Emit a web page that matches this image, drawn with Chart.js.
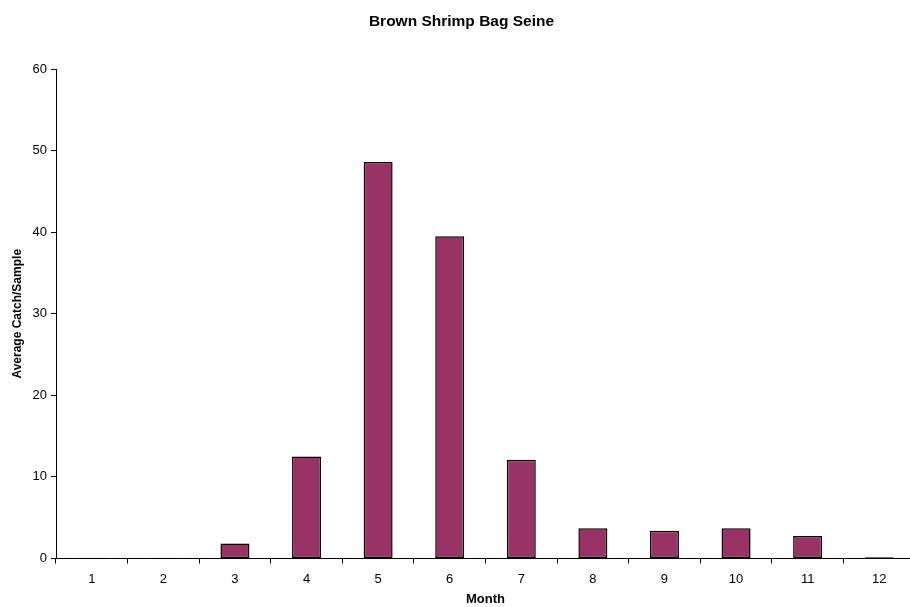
<!DOCTYPE html>
<html>
<head>
<meta charset="utf-8">
<script src="https://cdn.jsdelivr.net/npm/chart.js@4.4.1/dist/chart.umd.min.js"></script>
<style>
  html, body { margin: 0; padding: 0; background: #ffffff; overflow: hidden; }
  #wrap { width: 926px; height: 607px; }
</style>
</head>
<body>
<div id="wrap"><canvas id="chart" width="926" height="607"></canvas></div>
<script>
// Brown shrimp bag seine: average catch per sample by month
const months = ['1', '2', '3', '4', '5', '6', '7', '8', '9', '10', '11', '12'];
const avgCatch = [0.1, 0.1, 1.85, 12.5, 48.6, 39.5, 12.1, 3.7, 3.4, 3.7, 2.75, 0.15];
const yTicks = [0, 10, 20, 30, 40, 50, 60];

const FONT = "'Liberation Sans', Arial, sans-serif";

new Chart(document.getElementById('chart'), {
  type: 'bar',
  data: {
    labels: months,
    datasets: [{
      label: 'Average Catch/Sample',
      data: avgCatch,
      backgroundColor: '#993366',
      borderColor: '#000000',
      borderWidth: 1.5,
      borderSkipped: false,
      barPercentage: 0.405,
      categoryPercentage: 1.0
    }]
  },
  options: {
    responsive: false,
    animation: false,
    layout: { padding: { left: 8, right: 11, top: 0, bottom: 0 } },
    plugins: {
      legend: { display: false },
      tooltip: { enabled: false },
      title: {
        display: true,
        text: 'Brown Shrimp Bag Seine',
        color: '#000000',
        font: { family: FONT, size: 15.5, weight: 'bold', lineHeight: 1.2 },
        padding: { top: 12.5, bottom: 37.9 }
      }
    },
    scales: {
      x: {
        type: 'category',
        offset: true,
        grid: {
          display: true,
          offset: true,
          drawOnChartArea: false,
          drawTicks: true,
          tickLength: 5,
          color: '#000000',
          lineWidth: 1
        },
        border: { display: true, color: '#000000', width: 1 },
        ticks: {
          color: '#000000',
          font: { family: FONT, size: 13 },
          padding: 8,
          maxRotation: 0
        },
        title: {
          display: true,
          text: 'Month',
          color: '#000000',
          font: { family: FONT, size: 13, weight: 'bold' },
          padding: { top: 7, bottom: 0 }
        },
        afterFit: (scale) => { scale.height = 48.5; }
      },
      y: {
        min: 0,
        max: 60,
        afterBuildTicks: (scale) => { scale.ticks = yTicks.map(v => ({ value: v })); },
        grid: {
          display: true,
          drawOnChartArea: false,
          drawTicks: true,
          tickLength: 5,
          color: '#000000',
          lineWidth: 1
        },
        border: { display: true, color: '#000000', width: 1 },
        ticks: {
          color: '#000000',
          font: { family: FONT, size: 13 },
          padding: 4
        },
        title: {
          display: true,
          text: 'Average Catch/Sample',
          color: '#000000',
          font: { family: FONT, size: 12, weight: 'bold' },
          padding: { top: 2, bottom: 0 }
        },
        afterFit: (scale) => { scale.width = 48; }
      }
    }
  }
});
</script>
</body>
</html>
